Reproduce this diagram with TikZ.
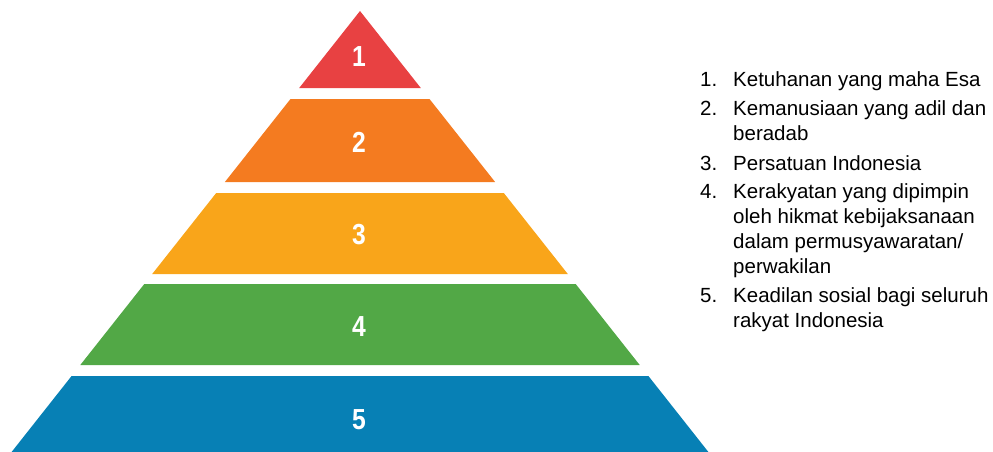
\documentclass[tikz,border=0pt]{standalone}
\usepackage{fontspec}
\setmainfont{Liberation Sans}
\definecolor{silared}{HTML}{E84142}
\definecolor{silaorange}{HTML}{F47B20}
\definecolor{silayellow}{HTML}{F9A51A}
\definecolor{silagreen}{HTML}{52A846}
\definecolor{silablue}{HTML}{0780B5}
\begin{document}
\begin{tikzpicture}
    [x=1pt, y=-1pt,
    level/.style = {text=white,
                  inner sep=0pt,
                  xscale=0.85,
                  font=\fontsize{29}{29}\selectfont\bfseries},
    itemno/.style = {anchor=base west,
                  inner sep=0pt,
                  font=\fontsize{20.5}{25}\selectfont},
    itemtext/.style = {anchor=base west,
                  inner sep=0pt,
                  align=left,
                  font=\fontsize{20.5}{25}\selectfont}]
    \useasboundingbox (0,0) rectangle (993,452);
    % pyramid layers
    \fill[silared] (360,11) -- (420.8,88) -- (299.2,88) -- cycle;
    \fill[silaorange] (290.5,99) -- (429.5,99) -- (495.1,182) -- (224.9,182) -- cycle;
    \fill[silayellow] (216.2,193) -- (503.8,193) -- (567.8,274) -- (152.2,274) -- cycle;
    \fill[silagreen] (144.3,284) -- (575.7,284) -- (639.7,365) -- (80.3,365) -- cycle;
    \fill[silablue] (71.6,376) -- (648.4,376) -- (708.4,452) -- (11.6,452) -- cycle;
    \node[level] (L1) at (359,57) {1};
    \node[level] (L2) at (359,142) {2};
    \node[level] (L3) at (359,235) {3};
    \node[level] (L4) at (359,327) {4};
    \node[level] (L5) at (359,420) {5};
    % list of the sila (base = last line)
    \node[itemno] (n1) at (700,86.5) {1.};
    \node[itemtext] (t1) at (733,86.5) {Ketuhanan yang maha Esa};
    \node[itemno] (n2) at (700,115) {2.};
    \node[itemtext] (t2) at (733,140) {Kemanusiaan yang adil dan\\beradab};
    \node[itemno] (n3) at (700,170) {3.};
    \node[itemtext] (t3) at (733,170) {Persatuan Indonesia};
    \node[itemno] (n4) at (700,198) {4.};
    \node[itemtext] (t4) at (733,273) {Kerakyatan yang dipimpin\\oleh hikmat kebijaksanaan\\dalam permusyawaratan/\\perwakilan};
    \node[itemno] (n5) at (700,302) {5.};
    \node[itemtext] (t5) at (733,327) {Keadilan sosial bagi seluruh\\rakyat Indonesia};
\end{tikzpicture}
\end{document}
